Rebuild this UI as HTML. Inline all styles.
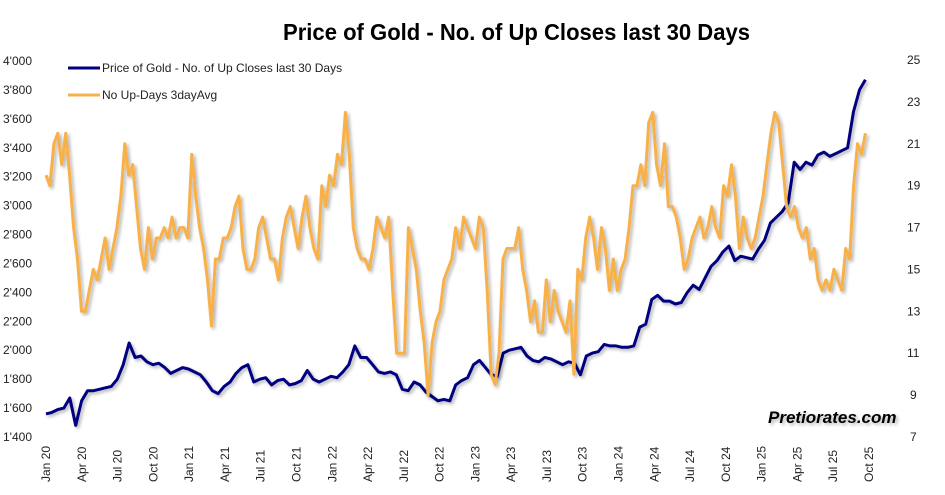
<!DOCTYPE html>
<html><head><meta charset="utf-8">
<style>
body{margin:0;background:#fff;}
svg{display:block;font-family:"Liberation Sans",Arial,sans-serif;}
</style></head>
<body>
<svg id="chart" width="945" height="495" viewBox="0 0 945 495" xmlns="http://www.w3.org/2000/svg">
<defs>
<filter id="sh" x="-5%" y="-5%" width="110%" height="110%"><feDropShadow dx="2" dy="2" stdDeviation="1.5" flood-color="#000" flood-opacity="0.3"/></filter>
</defs>
<text x="283" y="40" font-size="23" font-weight="bold" textLength="467" lengthAdjust="spacingAndGlyphs">Price of Gold - No. of Up Closes last 30 Days</text>
<g id="leftAxis"></g>
<g id="rightAxis"></g>
<g id="xAxis"></g>
<g id="series"></g>
<g>
<line x1="68" y1="68" x2="100" y2="68" stroke="#000080" stroke-width="3"/>
<text x="102" y="72" font-size="12" fill="#222">Price of Gold - No. of Up Closes last 30 Days</text>
<line x1="68" y1="95" x2="100" y2="95" stroke="#f8b048" stroke-width="3"/>
<text x="102" y="99" font-size="12" fill="#222">No Up-Days 3dayAvg</text>
</g>
<text x="768" y="423" font-size="17" font-weight="bold" font-style="italic" filter="url(#sh)">Pretiorates.com</text>
</svg>
<script>
// gold: two readings per month from Jan 2020; up-days: ~three readings per month
const goldV = [
1560,1570,1590,1600,1670,1480,1650,1720,1720,1730,1740,1750,1800,1900,2050,1950,1960,1920,1900,1910,1880,1840,1860,1880,
1870,1850,1830,1780,1720,1700,1750,1780,1840,1880,1900,1780,1800,1810,1760,1790,1800,1760,1770,1790,1860,1800,1780,1800,
1820,1810,1850,1900,2030,1950,1950,1900,1850,1840,1850,1830,1730,1720,1780,1760,1710,1680,1650,1660,1650,1760,1790,1810,
1900,1930,1880,1830,1820,1980,2000,2010,2020,1960,1930,1920,1950,1940,1920,1900,1920,1910,1830,1960,1980,1990,2040,2030,
2030,2020,2020,2030,2160,2180,2350,2380,2340,2340,2320,2330,2400,2450,2420,2500,2580,2620,2680,2720,2620,2650,2640,2630,
2700,2760,2880,2920,2960,3020,3300,3250,3300,3280,3350,3370,3340,3360,3380,3400,3650,3800,3870];
const updV = [
19.5,19,21, 21.5,20,21.5, 19.5,17,15.5, 13,13,14, 15,14.5,15.5, 16.5,15,16, 17,18.5,21, 19.5,20,18, 16,15,17, 15.5,16.5,16.5, 17,16.5,17.5, 16.5,17,17,
16.5,20.5,18.5, 17,16,14.5, 12.3,15.5,15.5, 16.5,16.5,17, 18,18.5,16, 15,15,15.5, 17,17.5,16.5, 15.5,15.5,14.5, 16.5,17.5,18, 17,16,17.5, 18.5,17,16, 15.5,19,18,
19.5,19,20.5, 20,22.5,20.5, 17,16,15.5, 15.5,15,16, 17.5,17,16.5, 17.5,14,11, 11,11,17,16, 15,13,11.5, 9,11.5,12.5, 13,14.5,15, 15.5,17,16, 17.5,17,16.5,
16,17.5,17, 14,10,9.5, 11,15.5,16, 16,16,17, 15,14,12.5, 13.5,12,12,14.5, 12.5,14,13, 12.5,12,13.5, 10,15,14.5, 16.5,17.5,16.5, 15,17,16, 14,15.5,14,
15,15.5,17, 19,19,20,19, 22,22.5,20, 19,21,18, 18,17.5,16.5, 15,15.5,16.5, 17,17.5,16.5, 17,18,17, 16.5,19,18.5, 20,18.5,16, 17.5,16.5,16, 16.5,17.5,18.5,
20,21.5,22.5, 22,20,18, 17.5,18,17, 16.5,17,15.5, 16,14.5,14, 14.5,14,15, 14.5,14,16, 15.5,19,21, 20.5,21.5];
const leftTicks = [1400,1600,1800,2000,2200,2400,2600,2800,3000,3200,3400,3600,3800,4000];
const rightTicks = [7,9,11,13,15,17,19,21,23,25];
const xTickLabels = ["Jan 20","Apr 20","Jul 20","Oct 20","Jan 21","Apr 21","Jul 21","Oct 21","Jan 22","Apr 22","Jul 22","Oct 22","Jan 23","Apr 23","Jul 23","Oct 23","Jan 24","Apr 24","Jul 24","Oct 24","Jan 25","Apr 25","Jul 25","Oct 25"];
const spanMonths = 68.7;

const NS="http://www.w3.org/2000/svg";
const x = t => 46 + t*(823/69);
const yL = v => 437 - (v-1400)*(376/2600);
const yR = v => 437 - (v-7)*(377/18);
function mk(tag, parent){const e=document.createElementNS(NS,tag);parent.appendChild(e);return e;}
const la=document.getElementById('leftAxis'), ra=document.getElementById('rightAxis'), xa=document.getElementById('xAxis'), sg=document.getElementById('series');
leftTicks.forEach(v=>{
  const t=mk('text',la);
  
  
  t.setAttribute('x',3);t.setAttribute('y',yL(v)+4);t.setAttribute('font-size','12');t.setAttribute('fill','#222');
  t.textContent=(v/1000|0)+"'"+String(v%1000).padStart(3,'0');
});
rightTicks.forEach(v=>{
  const t=mk('text',ra);
  
  
  t.setAttribute('x',v>=10?907:910);t.setAttribute('y',yR(v)+4);t.setAttribute('font-size','12');t.setAttribute('fill','#222');
  t.textContent=v;
});
xTickLabels.forEach((s,i)=>{
  const t=mk('text',xa);
  
  
  const px=x(i*3)+4;
  t.setAttribute('transform','translate('+px+',482) rotate(-90)');
  t.setAttribute('font-size','12');t.setAttribute('fill','#222');
  t.textContent=s;
});
function line(V,yf,color,name){
  const n=V.length;
  const p=mk('path',sg);
  
  
  p.setAttribute('d',V.map((v,i)=>(i?'L':'M')+x(i*spanMonths/(n-1)).toFixed(1)+','+yf(v).toFixed(1)).join(''));
  p.setAttribute('fill','none');p.setAttribute('stroke',color);p.setAttribute('stroke-width','3');
  p.setAttribute('stroke-linejoin','round');p.setAttribute('filter','url(#sh)');
}
line(goldV,yL,'#000080','gold-price-line');
line(updV,yR,'#f8b048','up-days-line');
</script>
</body></html>
